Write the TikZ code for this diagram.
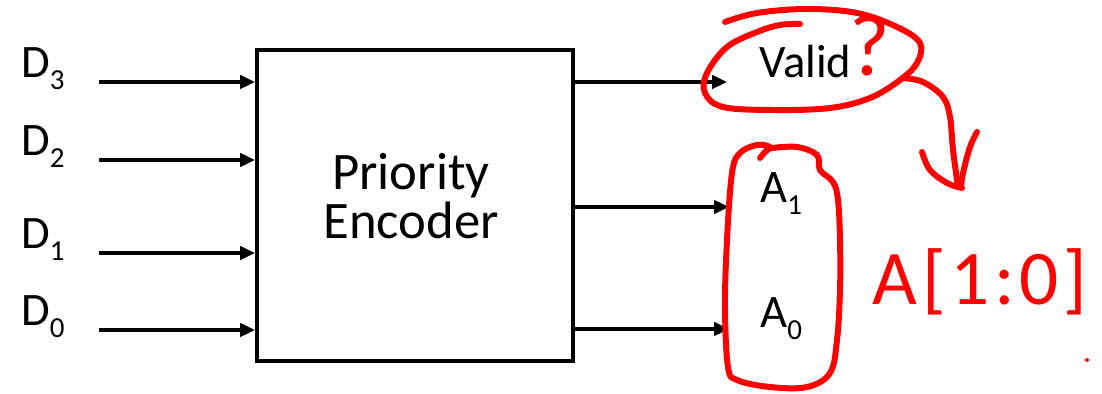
\documentclass[tikz,border=0pt]{standalone}
\usepackage{fontspec}
\setmainfont{Carlito}
\usetikzlibrary{arrows.meta,positioning,calc}
\definecolor{inkred}{RGB}{255,0,0}
\newcommand{\lowidx}[1]{\raisebox{-6.8pt}{\fontsize{16.5}{16.5}\selectfont #1}}

\begin{document}
\begin{tikzpicture}[x=0.02cm,y=-0.02cm,
    wire/.style={line width=2.3pt,-{Triangle[length=8.5pt,width=7.5pt]}},
    ink/.style={inkred,line width=3.4pt,line cap=round,line join=round},
    sig/.style={font=\fontsize{26.5}{28}\selectfont,inner sep=0pt}]
	  \useasboundingbox (0,0) rectangle (1102,394);
	  % the encoder block
	  \node[draw,line width=2.3pt,minimum width=6.32cm,minimum height=6.22cm] (enc) at (415,205.5) {};
	  \node[align=center,inner sep=0pt,font=\fontsize{30}{27.5}\selectfont] (title) at (411,196) {Priority\\Encoder};
	  % inputs
	  \foreach \n/\y/\b in {3/82/78,2/160/156,1/253/249,0/330/326} {
	    \coordinate (in\n) at (99,\y);
	    \draw[wire] (in\n) -- (in\n -| enc.west);
	    \node[sig,anchor=base west] (d\n) at (21,\b) {D\lowidx{\n}};
	  }
	  % outputs
	  \coordinate (vout) at (727,82);
	  \coordinate (aout1) at (729,207);
	  \coordinate (aout0) at (729,329);
	  \draw[wire] (vout -| enc.east) -- (vout);
	  \draw[wire] (aout1 -| enc.east) -- (aout1);
	  \draw[wire] (aout0 -| enc.east) -- (aout0);
	  \node[sig,anchor=base west] (valid) at (759,78) {Valid};
	  \node[sig,anchor=base west] (a1) at (760,203) {A\lowidx{1}};
	  \node[sig,anchor=base west] (a0) at (760,328) {A\lowidx{0}};
	  % red ink notes
	  \draw[ink] plot[smooth,tension=0.6] coordinates {(725,22) (757,13) (807,9) (857,13) (897,27)
	    (920,43) (917,63) (900,80) (870,98) (830,108) (773,110) (723,107) (705,93) (707,73)
	    (727,47) (757,32) (780,25) (800,24)};
	  \node[inkred,font=\fontsize{50}{50}\selectfont,anchor=base,inner sep=0pt] (qmark) at (870,76) {?};
	  \draw[ink] plot[smooth,tension=0.6] coordinates {(903,78) (923,82) (943,97) (950,117) (953,150) (958,187)};
	  \draw[ink] plot[smooth,tension=0.6] coordinates {(922,152) (930,170) (947,183) (962,188)};
	  \draw[ink] plot[smooth,tension=0.6] coordinates {(977,132) (970,147) (963,173) (961,187)};
	  \draw[ink] plot[smooth,tension=0.6] coordinates {(772,148) (797,147) (817,155) (820,170) (833,182)
	    (838,200) (840,240) (840,290) (837,340) (830,373) (807,387) (770,387) (737,380) (728,367)
	    (725,307) (727,240) (732,173) (740,153) (757,145) (770,147) (765,152) (760,158)};
	  \node[inkred,font=\fontsize{44}{44}\selectfont\addfontfeature{LetterSpace=6},anchor=base,inner sep=0pt] (abus) at (980,305) {A[1:0]};
	  \fill[inkred] (1087,360) circle (2);
	\end{tikzpicture}
\end{document}
